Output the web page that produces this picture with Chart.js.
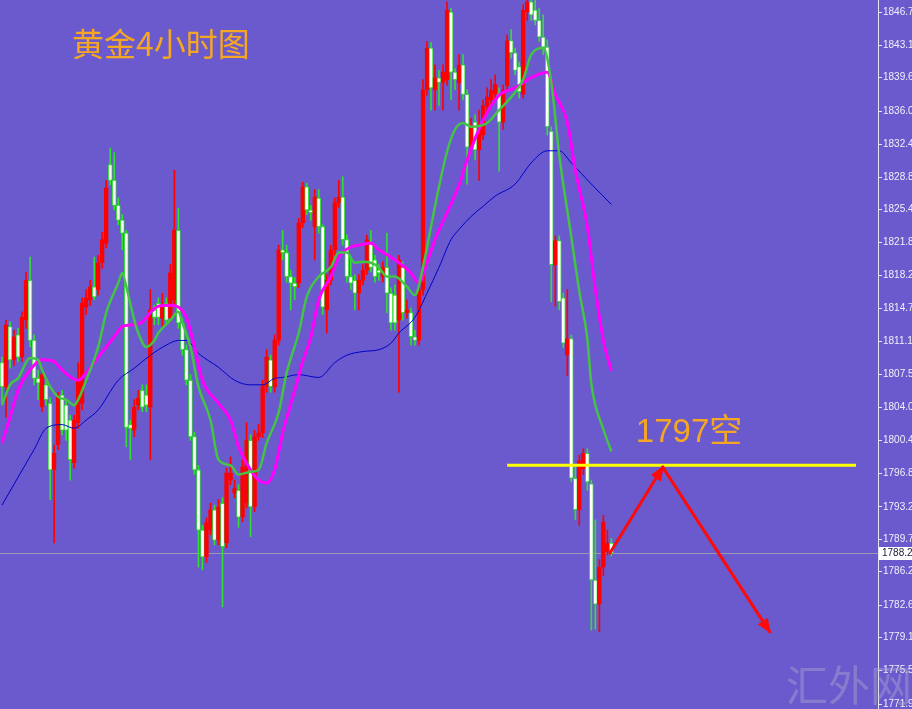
<!DOCTYPE html>
<html>
<head>
<meta charset="utf-8">
<script src="https://cdn.jsdelivr.net/npm/chart.js@4.4.1/dist/chart.umd.min.js"></script>
<style>
html,body{margin:0;padding:0;background:#6a5acd;}
canvas{display:block;}
</style>
</head>
<body>
<canvas id="c" width="912" height="709"></canvas>
<script>
// ---- data (gold, 4H candles) ----
const slotCount = 219; // candle slots on the time axis (incl. empty right margin)
const openP = [1808.8,1806.2,1812.7,1809.1,1811.8,1809.4,1813.4,1817.7,1811.2,1807.1,
1804.0,1806.4,1804.4,1797.2,1799.9,1805.3,1804.2,1802.6,1798.0,1802.3,
1804.4,1814.8,1815.6,1817.0,1816.7,1819.6,1821.7,1830.2,1828.5,1825.8,
1824.2,1822.8,1802.1,1801.5,1804.2,1805.8,1805.3,1804.0,1814.5,1815.2,
1813.6,1815.2,1813.6,1815.6,1823.1,1813.1,1810.2,1806.9,1800.8,1797.2,
1790.7,1787.8,1790.7,1792.9,1789.6,1793.6,1789.3,1796.1,1794.7,1795.0,
1792.1,1793.6,1800.4,1793.2,1800.8,1801.2,1806.2,1809.1,1806.2,1811.2,
1821.0,1820.7,1818.1,1817.4,1817.4,1823.9,1827.8,1825.3,1823.5,1826.6,
1823.5,1814.5,1817.7,1821.0,1826.1,1826.7,1822.1,1818.1,1817.7,1816.3,
1817.7,1818.8,1821.7,1819.9,1818.8,1818.1,1819.1,1816.3,1816.1,1813.4,
1819.1,1814.2,1814.2,1811.6,1811.2,1816.7,1838.3,1842.8,1838.3,1839.6,
1839.1,1839.4,1846.7,1840.2,1839.0,1841.0,1837.8,1832.1,1834.8,1831.8,
1833.4,1836.5,1837.2,1837.8,1837.8,1834.8,1838.7,1843.6,1842.3,1840.8,
1837.8,1846.7,1847.8,1846.9,1845.8,1844.0,1842.9,1833.8,1819.4,1822.0,
1815.8,1809.6,1811.4,1796.3,1792.9,1797.3,1799.0,1795.7,1785.3,1782.7,
1786.7,1788.4,1789.3];
const highP = [1809.4,1813.4,1813.2,1812.3,1812.5,1814.3,1818.6,1820.2,1811.8,1808.0,
1808.2,1807.1,1805.0,1799.9,1805.6,1805.8,1804.8,1803.1,1803.1,1808.8,
1815.8,1816.7,1817.7,1820.2,1820.4,1822.9,1828.5,1832.0,1831.5,1826.6,
1824.8,1823.1,1802.6,1804.8,1805.8,1806.4,1806.4,1816.7,1815.0,1815.8,
1816.3,1815.8,1819.4,1829.6,1825.5,1813.6,1810.7,1807.5,1801.3,1797.7,
1791.2,1792.0,1793.6,1793.4,1794.0,1794.2,1797.4,1798.6,1796.1,1795.6,
1798.3,1802.3,1801.0,1801.5,1802.1,1806.9,1810.2,1809.6,1811.8,1821.5,
1823.1,1821.5,1818.8,1818.0,1824.4,1828.3,1828.2,1825.8,1827.5,1827.5,
1823.7,1818.3,1821.5,1826.6,1828.5,1828.9,1822.6,1820.1,1818.3,1818.3,
1819.4,1822.6,1823.1,1820.4,1819.4,1819.7,1822.8,1816.9,1817.2,1820.4,
1819.7,1815.6,1814.7,1812.3,1817.2,1839.4,1843.5,1843.4,1841.0,1840.4,
1841.0,1847.8,1847.1,1840.6,1842.1,1842.1,1838.3,1835.2,1835.6,1836.1,
1837.2,1838.5,1839.4,1839.9,1838.5,1838.8,1844.2,1844.8,1842.8,1841.3,
1847.5,1849.1,1848.5,1848.5,1847.1,1846.4,1843.7,1834.3,1822.5,1822.5,
1816.3,1816.7,1811.8,1797.7,1798.8,1799.5,1799.5,1796.1,1791.8,1787.5,
1792.3,1790.7,1789.8];
const lowP = [1804.4,1802.9,1808.2,1808.5,1808.9,1808.9,1812.5,1810.5,1806.4,1804.8,
1803.5,1804.2,1794.0,1789.3,1799.4,1801.0,1800.4,1796.1,1797.4,1801.7,
1803.7,1814.0,1815.0,1815.6,1816.1,1819.0,1821.2,1828.0,1825.3,1823.7,
1821.0,1799.7,1798.3,1800.8,1803.7,1803.5,1803.5,1798.3,1812.9,1812.9,
1812.7,1812.9,1813.2,1815.0,1812.5,1809.6,1806.4,1800.4,1796.7,1786.7,
1786.4,1787.2,1790.2,1789.1,1789.1,1782.4,1788.8,1795.6,1794.2,1791.0,
1791.6,1793.1,1790.0,1792.7,1800.4,1800.7,1805.6,1805.6,1805.6,1810.7,
1819.9,1817.5,1814.5,1815.6,1816.9,1823.4,1824.8,1824.2,1819.9,1822.8,
1814.0,1812.0,1817.2,1820.4,1825.6,1821.5,1817.5,1816.7,1814.5,1814.5,
1817.2,1818.3,1818.6,1817.5,1817.7,1817.5,1814.2,1812.3,1812.3,1805.6,
1813.4,1813.6,1810.7,1810.7,1810.7,1816.1,1837.7,1836.1,1836.1,1836.6,
1836.1,1838.8,1837.2,1838.3,1836.1,1837.2,1828.1,1831.8,1830.7,1828.5,
1832.9,1835.9,1836.6,1837.2,1829.5,1834.0,1838.3,1841.7,1839.9,1837.4,
1837.4,1845.8,1845.8,1845.3,1843.5,1842.1,1833.4,1815.4,1814.9,1814.5,
1810.4,1807.4,1795.9,1791.8,1791.2,1796.7,1795.0,1779.9,1780.0,1779.7,
1785.8,1788.0,1787.9];
const closeP = [1806.2,1812.9,1809.1,1811.6,1809.4,1813.7,1817.7,1811.2,1807.1,1806.6,
1807.5,1804.8,1797.2,1799.0,1805.1,1801.5,1801.5,1798.3,1802.6,1806.9,
1815.2,1815.8,1817.0,1815.9,1819.6,1822.1,1827.7,1828.5,1825.8,1824.2,
1822.8,1801.8,1801.7,1804.0,1805.0,1804.0,1804.2,1814.5,1813.7,1813.7,
1814.8,1813.4,1818.5,1823.1,1813.1,1810.2,1806.9,1800.8,1797.2,1790.7,
1787.8,1791.5,1792.9,1789.6,1793.2,1788.9,1796.9,1796.9,1795.2,1792.1,
1797.5,1800.4,1793.2,1800.8,1801.2,1806.2,1809.4,1806.2,1811.2,1821.0,
1820.7,1818.1,1817.4,1817.0,1823.9,1827.8,1825.3,1825.0,1826.7,1823.5,
1814.8,1817.7,1821.0,1826.1,1826.7,1822.1,1818.1,1817.4,1816.3,1817.7,
1818.8,1822.1,1819.1,1818.1,1818.5,1819.1,1816.3,1813.1,1813.1,1819.9,
1814.2,1814.5,1811.6,1811.2,1816.7,1838.3,1842.8,1838.5,1839.6,1839.1,
1840.2,1846.9,1840.2,1839.4,1841.0,1837.8,1832.1,1834.5,1831.8,1834.5,
1836.6,1837.5,1838.3,1838.9,1834.8,1838.3,1843.6,1842.3,1840.4,1838.1,
1846.9,1847.8,1846.4,1845.8,1844.0,1842.9,1834.3,1819.4,1822.0,1815.4,
1810.9,1811.4,1796.3,1792.9,1798.2,1799.0,1795.9,1785.3,1782.7,1786.7,
1791.6,1789.3,1788.2];

// moving averages (candle index -> value)
const maFastIdx = [0,2,4,7,9,10,12,14,16,18,19,21,24,26,29,30,31,33,34,36,38,39,42,44,45,47,49,52,54,57,59,62,64,66,69,71,74,76,79,82,84,86,88,90,92,94,96,98,101,103,105,107,109,111,113,115,117,121,124,127,130,132,135,137,139,142,144,146,147,150,152];
const maFastVal = [1804.2,1806.4,1807.1,1809.3,1809.1,1808.0,1806.2,1805.1,1804.8,1804.2,1804.8,1806.9,1810.5,1814.2,1817.4,1818.5,1817.0,1813.4,1812.0,1810.5,1811.2,1812.0,1813.4,1814.3,1813.1,1810.5,1806.2,1802.6,1798.3,1797.7,1796.7,1797.0,1797.2,1800.1,1803.4,1807.7,1812.0,1815.9,1818.1,1819.1,1820.7,1820.7,1819.6,1819.7,1819.6,1819.1,1818.1,1818.1,1817.0,1816.1,1819.1,1823.5,1827.8,1831.6,1834.0,1834.7,1834.3,1834.7,1836.1,1837.5,1839.4,1842.1,1842.8,1839.1,1831.2,1822.4,1816.5,1811.4,1806.5,1801.6,1799.2];
const maMidIdx = [0,2,4,7,10,13,15,19,21,24,28,30,33,35,37,39,42,44,46,48,50,54,57,59,62,64,66,68,70,73,75,77,79,82,84,87,89,92,94,97,99,102,104,106,108,111,114,116,120,124,128,132,136,138,141,143,146,148,150,152];
const maMidVal = [1800.1,1802.9,1805.8,1808.0,1809.1,1808.9,1808.0,1806.9,1807.7,1809.4,1811.6,1812.7,1812.9,1813.2,1814.2,1814.9,1815.0,1814.8,1813.7,1810.5,1806.9,1804.4,1802.6,1799.7,1797.2,1796.1,1795.8,1797.2,1801.2,1805.8,1808.9,1811.5,1815.6,1818.1,1820.2,1821.3,1821.5,1821.7,1821.0,1820.2,1819.6,1818.5,1817.4,1819.6,1822.1,1825.0,1828.0,1830.7,1835.0,1837.7,1838.5,1839.6,1840.2,1837.8,1834.8,1829.6,1823.5,1816.7,1811.2,1807.9];
const maSlowIdx = [0,4,8,11,15,18,21,24,29,33,37,41,44,46,49,54,58,62,65,68,70,74,79,83,86,90,94,97,99,103,106,109,112,114,117,120,123,128,132,136,139,142,147,152];
const maSlowVal = [1793.4,1796.4,1799.4,1801.7,1802.1,1801.7,1802.6,1803.7,1806.9,1808.2,1809.6,1810.7,1811.2,1811.2,1809.8,1808.3,1806.9,1806.4,1806.4,1807.1,1807.2,1807.5,1807.2,1808.8,1809.6,1810.0,1810.2,1810.9,1812.0,1813.7,1816.3,1819.1,1822.1,1823.2,1824.6,1825.7,1826.8,1828.1,1830.4,1831.7,1831.7,1830.4,1828.1,1825.9];

const yTicks = [1846.7,1843.1,1839.6,1836.0,1832.4,1828.8,1825.4,1821.8,1818.2,1814.7,1811.1,1807.5,1804.0,1800.4,1796.8,1793.2,1789.7,1786.2,1782.6,1779.1,1775.5,1771.9];
const yMin = 1771.36, yMax = 1848.0;

// annotations
const titleText = '黄金4小时图';
const levelPrice = 1797.7;           // yellow resistance line
const levelFrom = 126, levelTo = 213; // slot span of the line
const levelText = '1797空';
const arrowIdx = [151.6, 164.8, 191.5];
const arrowVal = [1788.2, 1797.5, 1779.7];
const watermark = '汇外网';
const lastPrice = closeP[closeP.length - 1];

// ---- build ----
const slots = Array.from({length: slotCount}, (_, i) => i);
const sparse = (idx, val) => { const a = new Array(closeP.length).fill(null); idx.forEach((i, k) => a[i] = val[k]); return a; };
const isUp = i => closeP[i] >= openP[i];
const RED = '#ff0000', GRN = '#33dd33';

const overlay = {
  id: 'overlay',
  beforeDatasetsDraw(chart) {
    const {ctx, chartArea, scales: {y}} = chart;
    const py = Math.round(y.getPixelForValue(lastPrice)) + 0.5;
    ctx.save();
    ctx.strokeStyle = 'rgba(160,160,175,0.9)';
    ctx.lineWidth = 1;
    ctx.beginPath(); ctx.moveTo(chartArea.left, py); ctx.lineTo(chartArea.right, py); ctx.stroke();
    ctx.restore();
  },
  afterDatasetsDraw(chart) {
    const {ctx, scales: {x, y}} = chart;
    ctx.save();
    // yellow level line
    const ly = y.getPixelForValue(levelPrice);
    ctx.strokeStyle = '#ffff00'; ctx.lineWidth = 3;
    ctx.beginPath(); ctx.moveTo(x.getPixelForValue(levelFrom), ly); ctx.lineTo(x.getPixelForValue(levelTo), ly); ctx.stroke();
    // red arrows
    ctx.strokeStyle = '#ff0a0a'; ctx.fillStyle = '#ff0a0a'; ctx.lineWidth = 3; ctx.lineCap = 'round';
    const pts = arrowIdx.map((v, k) => [x.getPixelForValue(v), y.getPixelForValue(arrowVal[k])]);
    for (let k = 0; k < pts.length - 1; k++) {
      const [x1, y1] = pts[k], [x2, y2] = pts[k + 1];
      ctx.beginPath(); ctx.moveTo(x1, y1); ctx.lineTo(x2, y2); ctx.stroke();
      const a = Math.atan2(y2 - y1, x2 - x1), h = 13, w = 6;
      ctx.beginPath();
      ctx.moveTo(x2 + 2 * Math.cos(a), y2 + 2 * Math.sin(a));
      ctx.lineTo(x2 - h * Math.cos(a) + w * Math.sin(a), y2 - h * Math.sin(a) - w * Math.cos(a));
      ctx.lineTo(x2 - h * Math.cos(a) - w * Math.sin(a), y2 - h * Math.sin(a) + w * Math.cos(a));
      ctx.closePath(); ctx.fill();
    }
    // texts
    ctx.fillStyle = '#f5a623';
    ctx.textBaseline = 'alphabetic'; ctx.textAlign = 'left';
    ctx.font = '32px "Noto Sans CJK SC"';
    ctx.fillText(titleText, 72, 56);
    ctx.font = '33px "Liberation Sans", "Noto Sans CJK SC"';
    ctx.fillText(levelText, x.getPixelForValue(158.1), ly - 23);
    // watermark
    ctx.fillStyle = 'rgba(185,180,205,0.38)';
    ctx.font = '42px "Noto Sans CJK SC"';
    ctx.fillText(watermark, 786, 701);
    ctx.restore();
  },
  afterDraw(chart) {
    const {ctx, chartArea, scales: {y}} = chart;
    const py = Math.round(y.getPixelForValue(lastPrice));
    ctx.save();
    ctx.fillStyle = '#ffffff';
    ctx.fillRect(chartArea.right + 1, py - 6, 40, 13);
    ctx.fillStyle = '#202040';
    ctx.font = '10px "Liberation Sans"';
    ctx.textBaseline = 'middle'; ctx.textAlign = 'left';
    ctx.fillText(lastPrice.toFixed(1), chartArea.right + 4, py + 0.5);
    ctx.restore();
  }
};

new Chart(document.getElementById('c'), {
  type: 'bar',
  data: {
    labels: slots,
    datasets: [
      {type: 'line', label: 'MA fast', data: sparse(maFastIdx, maFastVal), borderColor: '#44c444', borderWidth: 2.5,
       pointRadius: 0, spanGaps: true, cubicInterpolationMode: 'monotone', order: 0},
      {type: 'line', label: 'MA mid', data: sparse(maMidIdx, maMidVal), borderColor: '#ff00ff', borderWidth: 3,
       pointRadius: 0, spanGaps: true, cubicInterpolationMode: 'monotone', order: 1},
      {type: 'line', label: 'MA slow', data: sparse(maSlowIdx, maSlowVal), borderColor: '#0000c8', borderWidth: 1,
       pointRadius: 0, spanGaps: true, cubicInterpolationMode: 'monotone', order: 1},
      {label: 'body', data: openP.map((o, i) => [o, closeP[i]]), grouped: false, barThickness: 4, minBarLength: 1,
       backgroundColor: c => isUp(c.dataIndex) ? RED : '#ffffff',
       borderColor: c => isUp(c.dataIndex) ? RED : GRN,
       borderWidth: 1, borderSkipped: false, order: 2},
      {label: 'wick', data: lowP.map((l, i) => [l, highP[i]]), grouped: false, barThickness: 1,
       backgroundColor: c => isUp(c.dataIndex) ? RED : GRN, borderWidth: 0, order: 3}
    ]
  },
  options: {
    responsive: false, animation: false, devicePixelRatio: 1, events: [],
    layout: {padding: 0},
    plugins: {legend: {display: false}, tooltip: {enabled: false}, title: {display: false}},
    scales: {
      x: {display: false, offset: true, grid: {display: false}},
      y: {
        position: 'right', min: yMin, max: yMax,
        afterBuildTicks: s => { s.ticks = yTicks.map(v => ({value: v})); },
        afterFit: s => { s.width = 34; s.paddingTop = 0; s.paddingBottom = 0; },
        ticks: {color: '#f0f0f8', font: {family: 'Liberation Sans', size: 10}, padding: 1, autoSkip: false,
                callback: v => Number(v).toFixed(1)},
        grid: {drawOnChartArea: false, drawTicks: true, tickLength: 4, color: '#e6e6f0'},
        border: {display: true, color: '#e6e6f0', width: 1}
      }
    }
  },
  plugins: [overlay]
});
</script>
</body>
</html>
